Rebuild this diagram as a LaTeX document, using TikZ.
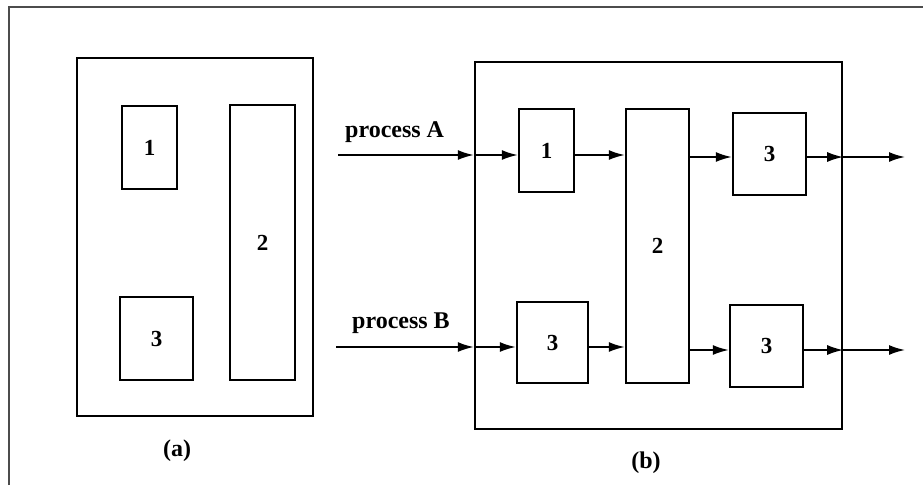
\documentclass[tikz,border=0pt]{standalone}
\usepackage{fontspec}
\setmainfont{Liberation Serif}
\usetikzlibrary{arrows.meta}
\begin{document}
\begin{tikzpicture}[x=1pt,y=-1pt,
  box/.style={draw, line width=2.4pt, inner sep=0pt, font=\fontsize{23}{26}\selectfont\bfseries},
  lbl/.style={inner sep=0pt, font=\fontsize{24}{27}\selectfont\bfseries},
  arr/.style={line width=1.8pt, -{Latex[length=16pt,width=10pt]}},
  frameline/.style={line width=1.2pt, draw=black!70}]
\useasboundingbox (0,0) rectangle (923,485);
% outer frame (top and left visible)
\coordinate (fl) at (9,485);
\coordinate (fc) at (9,7);
\coordinate (fr) at (923,7);
\draw[frameline] (fl) -- (fc) -- (fr);
% panel (a)
\node[box, minimum width=236pt, minimum height=358pt] (pa) at (195,237) {};
\node[box, minimum width=55pt, minimum height=83pt] (a1) at (149.5,147.5) {1};
\node[box, minimum width=65pt, minimum height=275pt] (a2) at (262.5,242.5) {2};
\node[box, minimum width=73pt, minimum height=83pt] (a3) at (156.5,338.5) {3};
\node[lbl] (la) at (177,451) {(a)};
% panel (b)
\node[box, minimum width=367pt, minimum height=367pt] (pb) at (658.5,245.5) {};
\node[box, minimum width=55pt, minimum height=83pt] (b1) at (546.5,150.5) {1};
\node[box, minimum width=71pt, minimum height=81pt] (b3l) at (552.5,342.5) {3};
\node[box, minimum width=63pt, minimum height=274pt] (b2) at (657.5,246) {2};
\node[box, minimum width=73pt, minimum height=82pt] (b3a) at (769.5,154) {3};
\node[box, minimum width=73pt, minimum height=82pt] (b3b) at (766.5,346) {3};
\node[lbl] (lb) at (646,463) {(b)};
% inputs
\node[lbl, anchor=base west] (tA) at (345,137) {process A};
\node[lbl, anchor=base west] (tB) at (352,328) {process B};
\coordinate (inA) at (338,155);
\coordinate (inB) at (336,347);
\coordinate (outA) at (905,157);
\coordinate (outB) at (905,350);
% row A
\draw[arr] (inA) -- (inA -| pb.west);
\draw[arr] (inA -| pb.west) -- (inA -| b1.west);
\draw[arr] (b1.east |- inA) -- (inA -| b2.west);
\draw[arr] (b2.east |- outA) -- (outA -| b3a.west);
\draw[arr] (b3a.east |- outA) -- (outA -| pb.east);
\draw[arr] (outA -| pb.east) -- (outA);
% row B
\draw[arr] (inB) -- (inB -| pb.west);
\draw[arr] (inB -| pb.west) -- (inB -| b3l.west);
\draw[arr] (b3l.east |- inB) -- (inB -| b2.west);
\draw[arr] (b2.east |- outB) -- (outB -| b3b.west);
\draw[arr] (b3b.east |- outB) -- (outB -| pb.east);
\draw[arr] (outB -| pb.east) -- (outB);
\end{tikzpicture}
\end{document}
